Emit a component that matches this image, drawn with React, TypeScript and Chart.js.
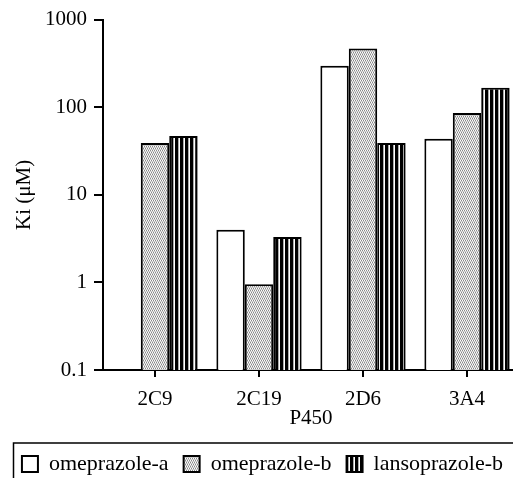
import React, { useEffect, useRef } from "react";
import { Chart, registerables } from "chart.js";

Chart.register(...registerables);

const categories = ["2C9", "2C19", "2D6", "3A4"];
const omeprazoleA: (number | null)[] = [null, 4.0, 298, 43.7];
const omeprazoleB: (number | null)[] = [39, 0.95, 467, 86];
const lansoprazoleB: (number | null)[] = [47, 3.3, 39, 167];
const yTickValues = [0.1, 1, 10, 100, 1000];
const yTickLabels = ["0.1", "1", "10", "100", "1000"];

const FONT = "'Liberation Serif', 'Times New Roman', serif";

function makePattern(rows: string[][]): CanvasPattern | string {
  const h = rows.length;
  const w = rows[0].length;
  const c = document.createElement("canvas");
  c.width = w;
  c.height = h;
  const ctx = c.getContext("2d");
  if (!ctx) return "#ccc";
  for (let y = 0; y < h; y++) {
    for (let x = 0; x < w; x++) {
      ctx.fillStyle = rows[y][x];
      ctx.fillRect(x, y, 1, 1);
    }
  }
  const p = ctx.createPattern(c, "repeat");
  return p || "#ccc";
}

export default function App() {
  const ref = useRef<HTMLCanvasElement | null>(null);

  useEffect(() => {
    if (!ref.current) return;
    const W = "#ffffff", K = "#888888", G = "#cccccc", B = "#000000";
    const stipple = makePattern([
      [W, K, W, K],
      [G, G, G, G],
      [K, W, K, W],
      [G, G, G, G],
    ]);
    const stripes = makePattern([[B, B, B, "#aaaaaa", W]]);

    const legendBorder = {
      id: "legendBorder",
      afterDraw(chart: any) {
        const lg = chart.legend;
        if (!lg) return;
        const ctx = chart.ctx;
        ctx.save();
        ctx.strokeStyle = "#000";
        ctx.lineWidth = 1.5;
        ctx.strokeRect(13.5, lg.top + 5, 506, 100);
        ctx.restore();
      },
    };

    const chart = new Chart(ref.current, {
      type: "bar",
      data: {
        labels: categories,
        datasets: [
          {
            label: "omeprazole-a",
            data: omeprazoleA,
            backgroundColor: "#ffffff",
            borderColor: "#000",
            borderWidth: 2,
          },
          {
            label: "omeprazole-b",
            data: omeprazoleB,
            backgroundColor: stipple as any,
            borderColor: "#000",
            borderWidth: 2,
          },
          {
            label: "lansoprazole-b",
            data: lansoprazoleB,
            backgroundColor: stripes as any,
            borderColor: "#000",
            borderWidth: 2,
          },
        ],
      },
      options: {
        responsive: false,
        animation: false,
        datasets: {
          bar: { categoryPercentage: 0.82, barPercentage: 1.0 },
        },
        layout: { padding: { left: 6, right: 0, top: 8, bottom: 0 } },
        plugins: {
          tooltip: { enabled: false },
          legend: {
            position: "bottom",
            labels: {
              boxWidth: 16,
              boxHeight: 16,
              padding: 15,
              color: "#000",
              font: { family: FONT, size: 22 },
            },
          },
        },
        scales: {
          x: {
            type: "category",
            offset: true,
            border: { display: true, color: "#000", width: 2 },
            grid: {
              display: true,
              drawOnChartArea: false,
              drawTicks: true,
              offset: false,
              tickLength: 7,
              color: "#000",
              lineWidth: 2,
            },
            afterFit: (scale: any) => {
              scale.height = 68;
            },
            ticks: {
              color: "#000",
              font: { family: FONT, size: 21 },
              padding: 10,
            },
            title: {
              display: true,
              text: "P450",
              color: "#000",
              font: { family: FONT, size: 21, lineHeight: 1 },
              padding: { top: 0, bottom: 9.5 },
            },
          },
          y: {
            type: "logarithmic",
            min: 0.1,
            max: 1000,
            border: { display: true, color: "#000", width: 2 },
            grid: {
              display: true,
              drawOnChartArea: false,
              drawTicks: true,
              tickLength: 9,
              color: "#000",
              lineWidth: 2,
            },
            afterBuildTicks: (scale: any) => {
              scale.ticks = yTickValues.map((v) => ({ value: v }));
            },
            afterFit: (scale: any) => {
              scale.width = 97;
            },
            ticks: {
              color: "#000",
              font: { family: FONT, size: 21 },
              padding: 7,
              callback: (value: any) => {
                const i = yTickValues.findIndex((v) => Math.abs(v - Number(value)) < 1e-9);
                return i >= 0 ? yTickLabels[i] : "";
              },
            },
            title: {
              display: true,
              text: "Ki (μM)",
              color: "#000",
              font: { family: FONT, size: 21 },
              padding: { top: 6, bottom: 0 },
            },
          },
        },
      },
      plugins: [legendBorder],
    });
    return () => chart.destroy();
  }, []);

  return (
    <div
      style={{
        position: "fixed",
        left: 0,
        top: 0,
        width: 513,
        height: 478,
        overflow: "hidden",
        background: "#fff",
      }}
    >
      <canvas ref={ref} width={519} height={485} style={{ display: "block" }} />
    </div>
  );
}
